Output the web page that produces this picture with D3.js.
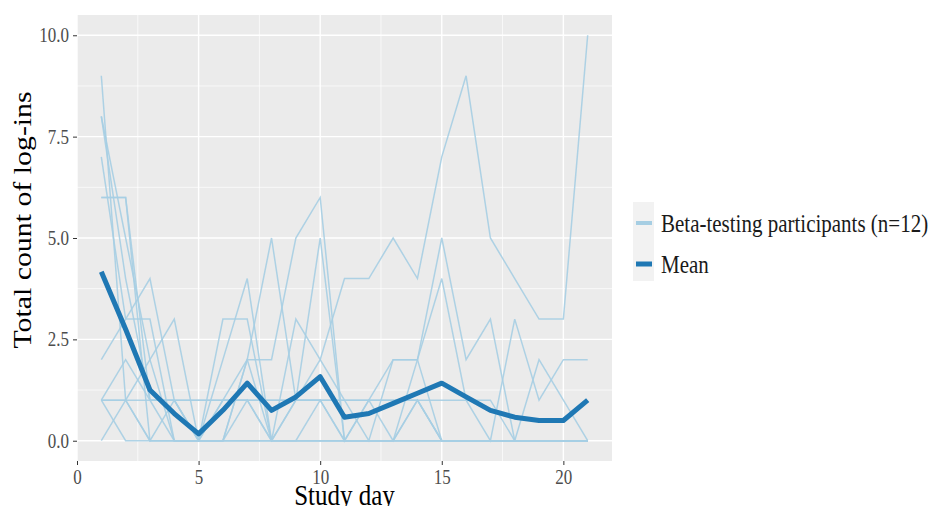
<!DOCTYPE html>
<html><head><meta charset="utf-8">
<script src="https://cdn.jsdelivr.net/npm/d3@7"></script>
<style>body{margin:0;background:#fff}svg{display:block}</style>
</head><body>
<svg id="chart" width="928" height="506"></svg>
<script>
const days = d3.range(1, 22);
const participants = [
  [6,6,0,0,0,1,1,0,1,2,4,4,5,4,7,9,5,4,3,3,10],
  [9,1,1,1,1,1,1,1,1,1,1,0,2,2,5,2,3,0,2,1,0],
  [8,5,2,0,0,0,2,2,5,6,0,0,0,2,4,1,0,3,1,2,2],
  [1,1,0,1,1,1,1,1,1,1,1,1,1,1,1,1,1,0,0,0,0],
  [8,4,1,0,0,3,3,0,3,2,1,1,1,1,0,0,0,0,0,0,0],
  [7,3,3,0,0,2,4,0,0,0,0,1,2,2,0,0,0,0,0,0,0],
  [6,6,1,1,0,0,2,5,1,5,0,1,0,1,0,0,0,0,0,0,0],
  [2,3,4,1,0,1,2,0,0,0,0,0,0,1,0,0,0,0,0,0,0],
  [1,0,0,0,0,0,0,0,0,0,0,0,0,0,0,0,0,0,0,0,0],
  [1,1,2,3,0,0,1,0,0,0,0,0,0,0,0,0,0,0,0,0,0],
  [1,2,1,1,0,0,0,0,1,1,0,0,0,0,0,0,0,0,0,0,0],
  [0,1,0,0,0,0,0,0,0,1,0,0,0,0,0,0,0,0,0,0,0]
];
const meanValues = [4.17,2.75,1.25,0.67,0.17,0.75,1.42,0.75,1.08,1.58,0.58,0.67,0.92,1.17,1.42,1.08,0.75,0.58,0.5,0.5,1.0];
const xTicks = [0,5,10,15,20];
const yTicks = [0,2.5,5,7.5,10];
const yTickLabels = ["0.0","2.5","5.0","7.5","10.0"];
const legendLabels = ["Beta-testing participants (n=12)","Mean"];
const lightBlue = "#a6cee3", darkBlue = "#1f78b4";
const stretch = 1.17;

const svg = d3.select("#chart");
const panel = {left:77, right:612, top:15, bottom:461};
const x = d3.scaleLinear().domain([0,22]).range([panel.left, panel.right]);
const y = d3.scaleLinear().domain([-0.5,10.5]).range([panel.bottom, panel.top]);

svg.append("rect").attr("x",panel.left).attr("y",panel.top)
  .attr("width",panel.right-panel.left).attr("height",panel.bottom-panel.top).attr("fill","#ebebeb");

const g = svg.append("g");
[2.5,7.5,12.5,17.5].forEach(v=>g.append("line").attr("x1",x(v)).attr("x2",x(v)).attr("y1",panel.top).attr("y2",panel.bottom).attr("stroke","#fff").attr("stroke-width",0.7));
[1.25,3.75,6.25,8.75].forEach(v=>g.append("line").attr("y1",y(v)).attr("y2",y(v)).attr("x1",panel.left).attr("x2",panel.right).attr("stroke","#fff").attr("stroke-width",0.7));
xTicks.forEach(v=>g.append("line").attr("x1",x(v)).attr("x2",x(v)).attr("y1",panel.top).attr("y2",panel.bottom).attr("stroke","#fff").attr("stroke-width",1.4));
yTicks.forEach(v=>g.append("line").attr("y1",y(v)).attr("y2",y(v)).attr("x1",panel.left).attr("x2",panel.right).attr("stroke","#fff").attr("stroke-width",1.4));

const line = d3.line().x((d,i)=>x(days[i])).y(d=>y(d));
svg.append("g").selectAll("path").data(participants).join("path")
  .attr("d",line).attr("fill","none").attr("stroke",lightBlue).attr("stroke-width",1.5).attr("stroke-opacity",0.9);
svg.append("path").datum(meanValues).attr("d",line).attr("fill","none")
  .attr("stroke",darkBlue).attr("stroke-width",5).attr("stroke-linejoin","round");

const font = "'Liberation Serif','Times New Roman',serif";
const xAxis = svg.append("g").attr("transform",`translate(0,${panel.bottom})`)
  .call(d3.axisBottom(x).tickValues(xTicks).tickSize(4).tickPadding(4).tickFormat(d3.format("d")));
const yAxis = svg.append("g").attr("transform",`translate(${panel.left},0)`)
  .call(d3.axisLeft(y).tickValues(yTicks).tickSize(4).tickPadding(4).tickFormat((d,i)=>yTickLabels[i]));
[xAxis,yAxis].forEach(a=>{
  a.select(".domain").remove();
  a.selectAll(".tick line").attr("stroke","#333").attr("stroke-width",1);
  a.selectAll("text").attr("fill","#4d4d4d").style("font-family",font).style("font-size","17px")
    .attr("transform",`scale(1,${stretch})`);
});

svg.append("text").attr("transform",`translate(${(panel.left+panel.right)/2},505) scale(1,${stretch})`)
  .attr("text-anchor","middle").style("font-family",font).style("font-size","25px").attr("fill","#000").text("Study day");
svg.append("text").attr("transform",`translate(31,220) rotate(-90) scale(${stretch},1)`)
  .attr("text-anchor","middle").style("font-family",font).style("font-size","25.5px").attr("fill","#000").text("Total count of log-ins");

const lg = svg.append("g");
lg.append("rect").attr("x",633).attr("y",202).attr("width",21).attr("height",79).attr("fill","#f2f2f2");
const keys = [{c:lightBlue,w:4,y:223},{c:darkBlue,w:5,y:264}];
keys.forEach((k,i)=>{
  lg.append("line").attr("x1",636).attr("x2",652).attr("y1",k.y).attr("y2",k.y).attr("stroke",k.c).attr("stroke-width",k.w);
  lg.append("text").attr("transform",`translate(661,${k.y}) scale(1,${stretch})`).attr("dy","0.35em")
    .style("font-family",font).style("font-size","21px").attr("fill","#1a1a1a").text(legendLabels[i]);
});
</script>
</body></html>
